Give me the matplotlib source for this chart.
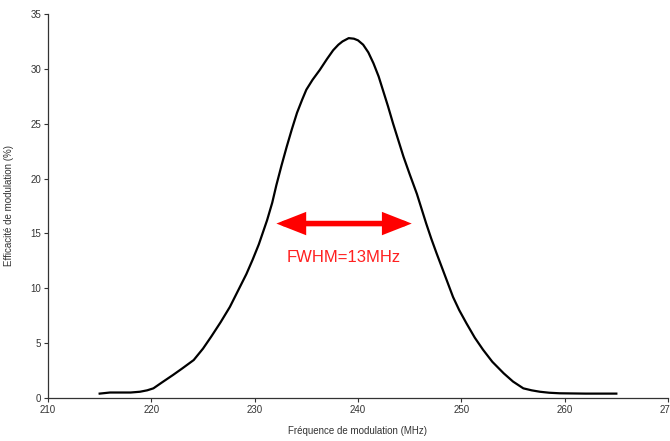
import numpy as np
import matplotlib
matplotlib.use('Agg')
import matplotlib.pyplot as plt

# Frequence de modulation (MHz) et efficacite (%)
freq = [215, 216, 218, 218.9, 219.6, 220.2, 221.0, 222.1, 223.0, 224.1, 225.0,
        225.8, 226.7, 227.6, 228.4, 229.2, 229.8, 230.4, 231.2, 231.7, 232.1,
        232.6, 233.1, 233.6, 234.1, 234.6, 235.0, 235.6, 236.3, 237.0, 237.6,
        238.1, 238.5, 239.1, 239.6, 240.0, 240.5, 241.0, 241.5, 242.0, 242.4,
        242.9, 243.4, 243.9, 244.4, 245.0, 245.7, 246.1, 246.6, 247.1, 247.6,
        248.4, 249.2, 249.8, 250.5, 251.3, 252.1, 253.0, 254.1, 255.0, 256.0,
        256.8, 257.6, 258.5, 259.5, 262, 265]
eff = [0.4, 0.5, 0.5, 0.57, 0.7, 0.88, 1.4, 2.1, 2.7, 3.46, 4.5,
       5.6, 6.9, 8.3, 9.8, 11.3, 12.6, 14.0, 16.2, 17.8, 19.4,
       21.2, 22.9, 24.5, 26.0, 27.2, 28.1, 29.0, 29.9, 30.9, 31.7,
       32.2, 32.5, 32.8, 32.75, 32.6, 32.2, 31.5, 30.5, 29.3, 28.1,
       26.6, 25.0, 23.5, 22.0, 20.4, 18.6, 17.4, 15.9, 14.5, 13.2,
       11.2, 9.2, 8.0, 6.8, 5.5, 4.4, 3.3, 2.25, 1.5, 0.88,
       0.7, 0.57, 0.48, 0.43, 0.4, 0.4]

x_ticks = [210, 220, 230, 240, 250, 260, 270]
y_ticks = [0, 5, 10, 15, 20, 25, 30, 35]

fwhm_left = 232.1
fwhm_right = 245.2
fwhm_level = 15.9
fwhm_text = 'FWHM=13MHz'

plt.rcParams['font.family'] = ['Liberation Sans', 'DejaVu Sans']

fig = plt.figure(figsize=(6.7, 4.41), dpi=100)
ax = fig.add_axes([48 / 670, 43 / 441, 620 / 670, 384 / 441])

ax.plot(freq, eff, color='black', lw=1.6, solid_joinstyle='round')

ax.annotate('', xy=(fwhm_right, fwhm_level), xytext=(fwhm_left, fwhm_level),
            arrowprops=dict(arrowstyle='<|-|>,head_length=1.4,head_width=0.55',
                            color='#ff0000', lw=4, shrinkA=0, shrinkB=0,
                            joinstyle='miter'))
ax.text((fwhm_left + fwhm_right) / 2, 12.8, fwhm_text, color='#ff2020',
        fontsize=12, ha='center', va='center')

ax.set_xlim(210, 270)
ax.set_ylim(0, 35)
ax.set_xticks(x_ticks)
ax.set_yticks(y_ticks)
ax.tick_params(labelsize=7, length=3, width=0.8, colors='#333333', pad=2)
ax.spines['top'].set_visible(False)
ax.spines['right'].set_visible(False)
for s in ['left', 'bottom']:
    ax.spines[s].set_color('#333333')
    ax.spines[s].set_linewidth(0.9)

ax.set_xlabel('Fréquence de modulation (MHz)', fontsize=7, color='#333333', labelpad=8)
ax.set_ylabel('Efficacité de modulation (%)', fontsize=7, color='#333333', labelpad=12)

fig.savefig('out.png', dpi=100)
